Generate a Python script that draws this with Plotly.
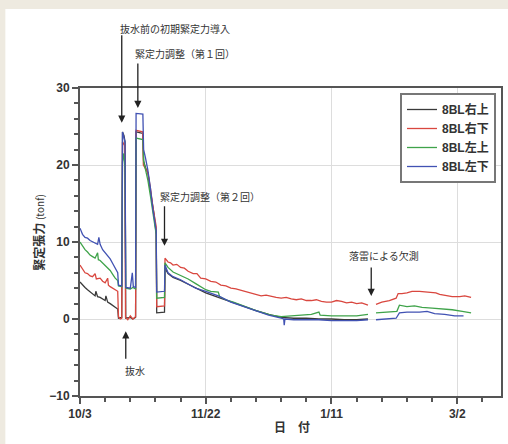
import plotly.graph_objects as go

# ---------------- data ----------------
tick_days = [0, 50, 100, 150]
tick_labels = ["10/3", "11/22", "1/11", "3/2"]

series_names = ["8BL右上", "8BL右下", "8BL左上", "8BL左下"]
series_colors = ["#3a3a3a", "#d9473f", "#3fa34a", "#4152b3"]

# 8BL右上 (black)
black_days = [0, 1, 2, 3, 4, 5, 6, 6.3, 7, 8, 9, 10, 10.3, 11, 12, 13, 14, 15, 15.3, 16.6,
              16.9, 17.5, 17.9, 18.2, 20, 21, 22.1, 22.3, 25, 25.3, 26.2, 27, 27.8, 28.6, 29.5, 30.3,
              30.5, 33.6, 33.8, 35, 37, 40, 43, 46, 50, 55, 60, 65, 70, 75, 80, 85, 90, 95,
              100, 105, 110, 114.5]
black_vals = [4.8, 4.4, 4.1, 3.8, 3.5, 3.3, 3.0, 3.6, 2.9, 2.8, 2.6, 2.4, 3.0, 2.2, 2.0, 1.8, 1.6, 1.3, 0.1, 0.2,
              24.3, 23.8, 23.0, 0.1, 0.2, 0.0, 0.2, 24.3, 24.1, 20.5, 19.5, 19.0, 17.0, 15.5, 13.5, 11.0,
              0.8, 0.9, 6.6, 5.9, 5.4, 5.0, 4.5, 4.0, 3.4, 2.8, 2.2, 1.6, 1.1, 0.6, 0.2, 0.1, 0.1, 0.0,
              0.0, -0.1, -0.1, 0.0]

# 8BL右下 (red)
red_days = [0, 1, 2, 3, 4, 5, 6, 6.5, 8, 9, 10, 11, 11.3, 12, 13, 14, 15, 15.3, 16, 16.6,
            16.9, 17.8, 18.1, 19, 20, 21, 22.1, 22.3, 24.9, 25.2, 26, 27, 28, 29, 30.3,
            30.5, 33.6, 33.8, 35, 36, 37, 38.5, 40, 41.5, 43, 45, 46.5, 48, 50, 52, 54, 56, 58,
            60, 62, 64, 66, 68, 70, 72, 74, 76, 78, 80, 82, 84, 86, 88, 90, 92, 94, 96, 98,
            100, 102, 104, 106, 108, 110, 112, 114.5, None,
            117.7, 120, 123, 125.7, 126.5, 128, 130, 132, 135, 138, 141.5, 143, 145, 148, 151, 153, 155.5]
red_vals = [7.0, 6.4, 6.0, 5.9, 5.6, 5.5, 5.9, 5.2, 5.3, 4.9, 4.7, 5.3, 4.4, 4.2, 4.0, 3.8, 3.6, 0.3, 0.0, 0.1,
            23.0, 22.5, 0.2, -0.1, 0.4, 0.0, 0.3, 24.5, 24.3, 20.0, 19.6, 19.0, 17.0, 14.5, 12.0,
            1.6, 1.7, 7.9, 7.4, 7.3, 7.0, 7.1, 6.7, 6.6, 6.2, 5.9, 5.9, 5.3, 5.2, 4.9, 4.8, 4.4, 4.3,
            4.0, 3.9, 3.7, 3.6, 3.4, 3.2, 3.0, 3.1, 2.9, 2.8, 2.7, 2.8, 2.6, 2.5, 2.6, 2.4, 2.4, 2.5, 2.3, 2.2,
            2.2, 2.4, 2.3, 2.1, 2.2, 2.0, 2.1, 1.8, None,
            1.9, 2.2, 2.4, 2.7, 3.3, 3.3, 3.4, 3.6, 3.6, 3.5, 3.4, 3.2, 3.1, 2.9, 2.9, 3.0, 2.8]

# 8BL左上 (green)
green_days = [0, 1, 2, 3, 4, 5, 6, 7, 7.3, 8, 9, 10, 11, 12, 13, 14, 15, 15.3, 16.6,
              16.9, 17.4, 17.9, 18.2, 20, 21, 22.1, 22.3, 25, 25.3, 26.5, 27, 28, 29, 30.3,
              30.5, 33.6, 33.8, 35, 37, 40, 43, 46, 48, 50, 52, 55, 55.5, 58, 61, 64, 67, 70,
              73, 76, 80, 84, 88, 92, 95, 95.5, 100, 105, 110, 114.5, None,
              117.7, 121, 124, 126, 127, 130, 133, 136, 140, 144, 148, 152, 155.5]
green_vals = [10.0, 9.4, 9.0, 8.7, 8.3, 8.1, 7.9, 8.6, 7.7, 7.6, 7.3, 7.0, 6.6, 6.3, 5.8, 5.3, 5.0, 4.3, 4.2,
              20.4, 21.5, 19.5, 4.0, 3.9, 4.1, 3.9, 23.5, 23.3, 20.5, 19.0, 18.0, 16.0, 14.0, 11.0,
              2.7, 2.8, 7.3, 6.7, 6.1, 5.7, 5.2, 4.6, 4.2, 3.8, 3.6, 3.5, 2.9, 2.5, 2.2, 1.8, 1.4, 1.1,
              0.8, 0.5, 0.3, 0.4, 0.5, 0.6, 0.9, 0.5, 0.4, 0.4, 0.4, 0.6, None,
              0.8, 0.9, 1.0, 1.0, 1.8, 1.6, 1.7, 1.5, 1.4, 1.3, 1.2, 1.0, 0.8]

# 8BL左下 (blue)
blue_days = [0, 1, 2, 3, 4, 5, 6, 7, 7.5, 8, 9, 10, 11, 12, 13, 14, 15, 15.3, 16.6,
             16.9, 17.2, 17.9, 18.2, 20, 20.8, 21.2, 22.1, 22.3, 25, 25.3, 26, 27, 28, 29, 30.3,
             30.5, 33.6, 33.8, 35, 37, 40, 43, 46, 50, 55, 60, 65, 70, 75, 80, 81, 81.2, 81.5,
             85, 90, 95, 100, 105, 110, 114.5, None,
             117.7, 122, 125.7, 127, 130, 135, 138, 141, 145, 149, 152.5]
blue_vals = [11.8, 11.0, 10.6, 10.5, 10.2, 10.0, 9.8, 9.7, 10.6, 9.7, 9.0, 8.6, 8.3, 7.8, 7.2, 6.6, 6.0, 4.4, 4.3,
             24.3, 23.9, 23.0, 4.1, 4.0, 6.0, 4.2, 4.1, 26.7, 26.6, 22.0, 21.0, 19.3, 17.0, 14.2, 11.5,
             3.5, 3.6, 7.0, 6.0, 5.5, 5.1, 4.6, 4.0, 3.6, 3.0, 2.2, 1.6, 1.0, 0.5, 0.1, 0.0, -0.8, 0.0,
             -0.1, -0.1, -0.1, -0.2, -0.2, -0.2, -0.1, None,
             -0.1, 0.0, 0.1, 0.8, 0.9, 0.9, 1.0, 0.7, 0.6, 0.4, 0.4]

event_texts = ["抜水前の初期緊定力導入", "緊定力調整（第１回）", "緊定力調整（第２回）", "落雷による欠測", "抜水"]
# arrow tips (day, value) for each event
event_days = [16.6, 23.0, 33.6, 115.8, 18.2]
event_vals = [25.5, 27.4, 9.5, 3.0, -1.6]

# ---------------- layout constants ----------------
W, H = 508, 444
L, R, T, B = 80, 5, 88, 48
PW, PH = W - L - R, H - T - B


def paper(px, py):
    return (px - L) / PW, 1 - (py - T) / PH


fig = go.Figure()
for name, color, xs, ys in zip(series_names, series_colors,
                                [black_days, red_days, green_days, blue_days],
                                [black_vals, red_vals, green_vals, blue_vals]):
    fig.add_trace(go.Scatter(x=xs, y=ys, name=name, mode="lines",
                             line=dict(color=color, width=1.3), connectgaps=False))

tick_font = dict(family="Liberation Sans, Arial, sans-serif", size=12, color="#333333", weight="bold")

fig.update_xaxes(range=[0, 167.4], tickvals=tick_days, ticktext=tick_labels,
                 ticks="outside", ticklen=6, tickcolor="#555555", tickwidth=1.5,
                 minor=dict(dtick=10, tick0=0, ticks="outside", ticklen=4, tickcolor="#555555", showgrid=False),
                 showgrid=True, gridcolor="#dddddd", gridwidth=1,
                 showline=True, linecolor="#555555", linewidth=2, mirror=True,
                 zeroline=False, tickfont=tick_font)
fig.update_yaxes(range=[-10, 30], tickvals=[-10, 0, 10, 20, 30], ticktext=["\u221210", "0", "10", "20", "30"],
                 ticks="outside", ticklen=6, tickcolor="#555555", tickwidth=1.5,
                 minor=dict(dtick=2, tick0=0, ticks="outside", ticklen=4, tickcolor="#555555", showgrid=False),
                 showgrid=True, gridcolor="#dddddd", gridwidth=1,
                 showline=True, linecolor="#555555", linewidth=2, mirror=True,
                 zeroline=False, tickfont=tick_font)

ann = []
cjk = "Noto Sans CJK JP, sans-serif"
label_pos = [(175, 28), (185, 54), (211, 196), (385, 255), (135, 370)]
for t, (px, py) in zip(event_texts, label_pos):
    x, y = paper(px, py)
    ann.append(dict(text=t, x=x, y=y, xref="paper", yref="paper", showarrow=False,
                    xanchor="center", yanchor="middle", font=dict(family=cjk, size=10, color="#333333")))
tail_offsets = [-89, -46, -41, -30, 29]
for d, v, ay in zip(event_days, event_vals, tail_offsets):
    ann.append(dict(text="", x=d, y=v, xref="x", yref="y", showarrow=True, ax=0, ay=ay,
                    axref="pixel", ayref="pixel", arrowhead=2, arrowsize=1.1, arrowwidth=1.3,
                    arrowcolor="#222222"))
x, y = paper(28, 232)
ann.append(dict(text="<b>緊定張力</b> <span style='font-size:10px'>(tonf)</span>", x=x, y=y,
                xref="paper", yref="paper", showarrow=False, textangle=-90,
                font=dict(family=cjk, size=12, color="#333333")))
x, y = paper(293, 437)
ann.append(dict(text="<b>日　付</b>", x=x, y=y, xref="paper", yref="paper", showarrow=False,
                font=dict(family=cjk, size=12, color="#333333")))

x0, y0 = paper(5, 9)
x1, y1 = paper(W + 2, H + 2)
lx, ly = paper(498, 93)
fig.update_layout(
    width=W, height=H,
    margin=dict(l=L, r=R, t=T, b=B, pad=0),
    paper_bgcolor="#eeeae0", plot_bgcolor="white",
    annotations=ann,
    shapes=[dict(type="rect", xref="paper", yref="paper", x0=x0, y0=y1, x1=x1, y1=y0,
                 fillcolor="white", line=dict(width=0), layer="below")],
    showlegend=True,
    legend=dict(x=lx, y=ly, xanchor="right", yanchor="top",
                bgcolor="white", bordercolor="#777777", borderwidth=2,
                font=dict(family="Liberation Sans, " + cjk, size=12, color="#333333", weight="bold"),
                tracegroupgap=0, itemwidth=30),
)

fig.write_html("out.html")
